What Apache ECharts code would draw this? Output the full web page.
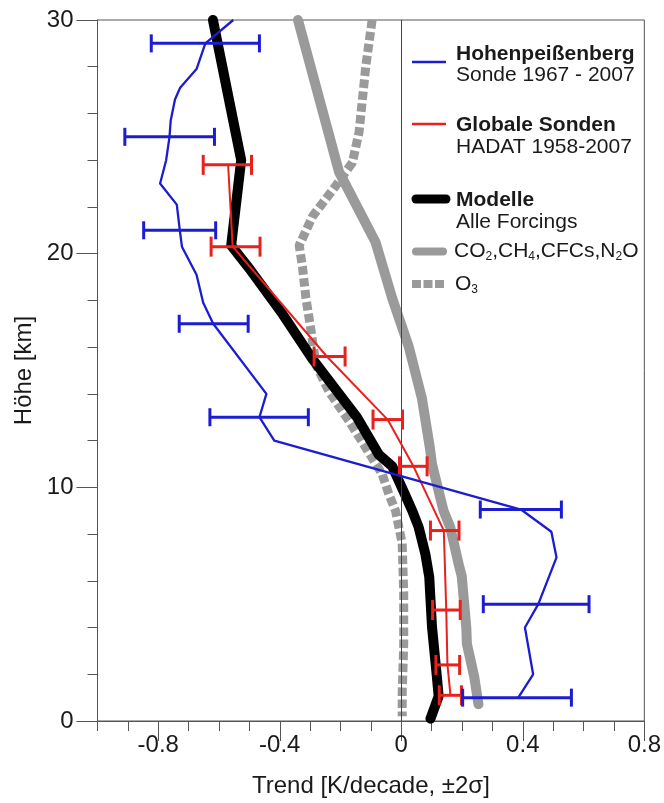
<!DOCTYPE html>
<html>
<head>
<meta charset="utf-8">
<script src="https://cdn.jsdelivr.net/npm/echarts@6/dist/echarts.min.js"></script>
<style>
html,body{margin:0;padding:0;background:#fff;}
#chart{width:664px;height:803px;}
</style>
</head>
<body>
<div id="chart"></div>
<script>
// ---- data (height in km, trend in K/decade) ----
const xLabelValues = [-0.8, -0.4, 0, 0.4, 0.8];
const yLabelValues = [0, 10, 20, 30];

// Hohenpeißenberg sonde 1967-2007
const hpbHeight = [30.0, 29.0, 27.9, 27.1, 26.6, 25.7, 25.0, 24.0, 23.0, 22.1, 21.0, 20.3, 19.1, 17.9, 17.0, 14.0, 13.0, 12.0, 9.05, 8.1, 7.0, 5.0, 4.0, 2.0, 1.0];
const hpbTrend  = [-0.553, -0.645, -0.674, -0.728, -0.745, -0.759, -0.763, -0.774, -0.794, -0.739, -0.729, -0.722, -0.674, -0.652, -0.619, -0.444, -0.467, -0.418, 0.394, 0.494, 0.511, 0.451, 0.407, 0.434, 0.385];
const hpbErrHeight = [29.0, 25.0, 21.0, 17.0, 13.0, 9.05, 5.0, 1.0];
const hpbErrLow    = [-0.823, -0.910, -0.848, -0.731, -0.630, 0.260, 0.270, 0.202];
const hpbErrHigh   = [-0.467, -0.615, -0.611, -0.504, -0.306, 0.527, 0.618, 0.560];

// Globale Sonden HADAT 1958-2007
const hadatHeight = [23.8, 20.3, 15.6, 12.9, 10.9, 8.15, 4.75, 2.4, 1.1];
const hadatTrend  = [-0.570, -0.555, -0.245, -0.045, 0.040, 0.140, 0.148, 0.152, 0.162];
const hadatErrLow  = [-0.652, -0.626, -0.287, -0.093, -0.006, 0.096, 0.103, 0.114, 0.125];
const hadatErrHigh = [-0.493, -0.465, -0.185, 0.004, 0.085, 0.190, 0.194, 0.192, 0.198];

// Modelle, alle Forcings
const modelHeight = [30, 24.0, 20.35, 19.36, 17.4, 15.5, 13.0, 11.4, 10.9, 9.7, 9.0, 8.3, 7.16, 6.17, 4.04, 1.91, 1.06, 0.1];
const modelTrend  = [-0.62, -0.527, -0.56, -0.50, -0.39, -0.293, -0.146, -0.074, -0.03, 0.012, 0.036, 0.057, 0.079, 0.092, 0.101, 0.117, 0.123, 0.096];

// CO2, CH4, CFCs, N2O
const ghgHeight = [30, 23.5, 20.5, 18.1, 16.0, 13.8, 11.7, 11.0, 9.0, 8.3, 6.7, 6.2, 4.0, 3.3, 1.9, 0.72];
const ghgTrend  = [-0.34, -0.205, -0.085, -0.03, 0.025, 0.068, 0.094, 0.101, 0.139, 0.161, 0.189, 0.199, 0.214, 0.216, 0.24, 0.254];

// O3
const o3Height = [30, 28.0, 25.2, 23.9, 22.9, 21.6, 20.35, 19.4, 18.1, 16.7, 15.25, 14.1, 12.84, 11.7, 10.57, 9.71, 9.0, 7.6, 5.5, 3.3, 1.2, 0.2];
const o3Trend  = [-0.096, -0.117, -0.139, -0.161, -0.216, -0.292, -0.336, -0.325, -0.314, -0.297, -0.281, -0.238, -0.172, -0.117, -0.063, -0.041, -0.019, 0.003, 0.008, 0.008, 0.003, 0.003];

// zero reference line
const zeroTrend = 0;

// ---- build ----
const zip = (xs, ys) => xs.map((x, i) => [x, ys[i]]);
const errData = (hs, lo, hi) => hs.map((h, i) => [h, lo[i], hi[i]]);

const FONT = '"Liberation Sans", Arial, sans-serif';
const BLUE = '#1c1cd0';
const RED = '#e8211d';
const GRAY = '#9a9a9a';
const AXIS = '#555';
const TEXT = '#1a1a1a';

function errorBar(color, capHalf, width) {
  return function (params, api) {
    const h = api.value(0), lo = api.value(1), hi = api.value(2);
    const p1 = api.coord([lo, h]);
    const p2 = api.coord([hi, h]);
    const st = { stroke: color, lineWidth: width };
    return {
      type: 'group',
      children: [
        { type: 'line', shape: { x1: p1[0], y1: p1[1], x2: p2[0], y2: p2[1] }, style: st },
        { type: 'line', shape: { x1: p1[0], y1: p1[1] - capHalf, x2: p1[0], y2: p1[1] + capHalf }, style: st },
        { type: 'line', shape: { x1: p2[0], y1: p2[1] - capHalf, x2: p2[0], y2: p2[1] + capHalf }, style: st }
      ]
    };
  };
}

const chart = echarts.init(document.getElementById('chart'), null, { renderer: 'canvas' });

const txt = (text, x, y, bold) => ({
  type: 'text', x: x, y: y, silent: true,
  style: { text: text, font: (bold ? 'bold ' : '') + '21px ' + FONT, fill: TEXT, verticalAlign: 'middle', align: 'left' }
});
const swatch = (y, x1, x2, color, w, extra) => ({
  type: 'line', silent: true,
  shape: { x1: x1, y1: y, x2: x2, y2: y },
  style: Object.assign({ stroke: color, lineWidth: w }, extra || {})
});
const subText = (rt, x, y) => ({
  type: 'text', x: x, y: y, silent: true,
  style: {
    text: rt, verticalAlign: 'middle', align: 'left',
    rich: {
      n: { fontSize: 21, fontFamily: FONT, fill: TEXT, color: TEXT, lineHeight: 24 },
      s: { fontSize: 12, fontFamily: FONT, fill: TEXT, color: TEXT, verticalAlign: 'bottom', lineHeight: 13 }
    }
  }
});

const option = {
  animation: false,
  backgroundColor: '#fff',
  grid: { left: 97.5, right: 17.5, top: 20, bottom: 78, show: true, borderColor: AXIS, borderWidth: 1, backgroundColor: 'transparent' },
  xAxis: [
    {
      type: 'value', min: -1, max: 0.8, interval: 0.1, position: 'bottom',
      axisLine: { show: true, onZero: false, lineStyle: { color: AXIS, width: 1 } },
      axisTick: { show: true, length: 10, lineStyle: { color: AXIS } },
      axisLabel: {
        customValues: xLabelValues, fontSize: 24, fontFamily: FONT, color: TEXT, margin: 12,
        formatter: v => (Math.abs(v) < 1e-9 ? '0' : v.toFixed(1))
      },
      splitLine: { show: false },
      name: 'Trend [K/decade, \u00b12\u03c3]', nameLocation: 'middle', nameGap: 53,
      nameTextStyle: { fontSize: 24, fontFamily: FONT, color: TEXT }
    },
    {
      type: 'value', min: -1, max: 0.8, position: 'bottom', gridIndex: 0,
      axisLine: { show: false, onZero: false },
      axisTick: { show: true, customValues: xLabelValues, length: 20, lineStyle: { color: AXIS } },
      axisLabel: { show: false },
      splitLine: { show: false }
    }
  ],
  yAxis: {
    type: 'value', min: 0, max: 30, interval: 10, position: 'left',
    axisLine: { show: true, onZero: false, lineStyle: { color: AXIS, width: 1 } },
    axisTick: { show: true, length: 21, lineStyle: { color: AXIS } },
    minorTick: { show: true, splitNumber: 5, length: 10, lineStyle: { color: AXIS } },
    axisLabel: { customValues: yLabelValues, fontSize: 24, fontFamily: FONT, color: TEXT, margin: 24 },
    splitLine: { show: false },
    name: 'H\u00f6he [km]', nameLocation: 'middle', nameGap: 60, nameRotate: 90,
    nameTextStyle: { fontSize: 24, fontFamily: FONT, color: TEXT }
  },
  series: [
    {
      name: 'zero', type: 'line', z: 1, silent: true, showSymbol: false, data: [],
      markLine: {
        silent: true, symbol: 'none', label: { show: false },
        lineStyle: { color: '#444', width: 1, type: 'solid' },
        data: [{ xAxis: zeroTrend }]
      }
    },
    {
      name: 'O3', type: 'line', z: 2, showSymbol: false, silent: true,
      data: zip(o3Trend, o3Height),
      lineStyle: { color: GRAY, width: 9, type: [8.5, 3.5], cap: 'butt', join: 'round' }
    },
    {
      name: 'GHG', type: 'line', z: 3, showSymbol: false, silent: true,
      data: zip(ghgTrend, ghgHeight),
      lineStyle: { color: GRAY, width: 10, cap: 'round', join: 'round' }
    },
    {
      name: 'Modelle', type: 'line', z: 4, showSymbol: false, silent: true,
      data: zip(modelTrend, modelHeight),
      lineStyle: { color: '#000', width: 10, cap: 'round', join: 'round' }
    },
    {
      name: 'HADAT', type: 'line', z: 5, showSymbol: false, silent: true,
      data: zip(hadatTrend, hadatHeight),
      lineStyle: { color: RED, width: 2 }
    },
    {
      name: 'HADAT err', type: 'custom', z: 6, silent: true,
      encode: { x: [1, 2], y: 0 },
      data: errData(hadatHeight, hadatErrLow, hadatErrHigh),
      renderItem: errorBar(RED, 10, 3)
    },
    {
      name: 'Hohenpeissenberg', type: 'line', z: 7, showSymbol: false, silent: true,
      data: zip(hpbTrend, hpbHeight),
      lineStyle: { color: BLUE, width: 2.3 }
    },
    {
      name: 'HPB err', type: 'custom', z: 8, silent: true,
      encode: { x: [1, 2], y: 0 },
      data: errData(hpbErrHeight, hpbErrLow, hpbErrHigh),
      renderItem: errorBar(BLUE, 9, 3)
    }
  ],
  graphic: [
    swatch(62, 412, 446, BLUE, 2.5),
    txt('Hohenpei\u00dfenberg', 456, 54, true),
    txt('Sonde 1967 - 2007', 456, 75, false),
    swatch(124, 412, 446, RED, 2.5),
    txt('Globale Sonden', 456, 125, true),
    txt('HADAT 1958-2007', 456, 147, false),
    swatch(199, 416, 446, '#000', 9, { lineCap: 'round' }),
    txt('Modelle', 456, 200, true),
    txt('Alle Forcings', 456, 222, false),
    swatch(251.5, 416, 443, GRAY, 8, { lineCap: 'round' }),
    subText('{n|CO}{s|2}{n|,CH}{s|4}{n|,CFCs,N}{s|2}{n|O}', 454, 251),
    swatch(284, 412, 444, GRAY, 8, { lineCap: 'butt', lineDash: [9, 2.5] }),
    subText('{n|O}{s|3}', 455, 284)
  ]
};
chart.setOption(option);
</script>
</body>
</html>
